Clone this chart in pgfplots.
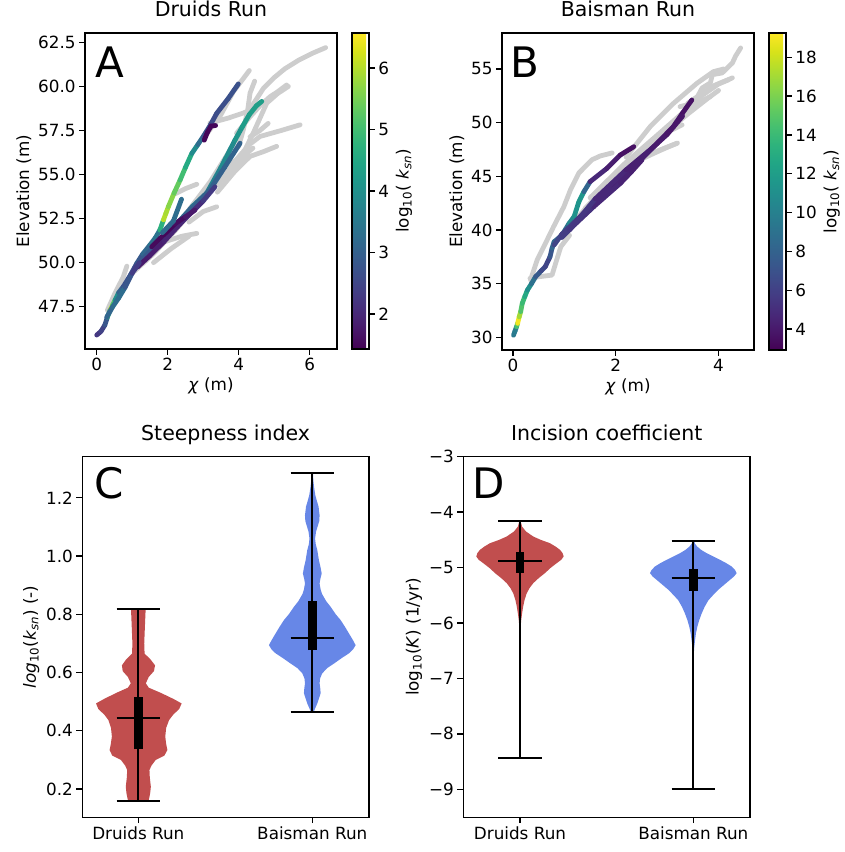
\documentclass[border=0pt]{standalone}
\usepackage{fontspec}
\setmainfont{DejaVu Sans}
\usepackage{pgfplots}
\usepackage{pgfplotstable}
\pgfplotsset{compat=1.18}

\definecolor{druid}{RGB}{193,78,78}
\definecolor{bais}{RGB}{103,135,231}
\definecolor{lgray}{RGB}{205,205,205}

\newcommand\tf{\fontsize{16.8}{20}\selectfont}
\newcommand\ksn{\textit{k}\textsubscript{\textit{sn}}}

\tikzset{letter/.style={anchor=base west, inner sep=0pt, font=\fontsize{42}{50}\selectfont}}

\pgfplotsset{
  panel/.style={
    scale only axis,
    axis line style={black, line width=1.3pt},
    tick align=outside, tick pos=left,
    major tick length=5.9pt,
    every tick/.append style={black, line width=1.3pt},
    tick label style={font=\tf},
    label style={font=\tf},
    /pgf/number format/assume math mode=true,
    title style={at={(0.5,1)}, anchor=base, yshift=10.3pt, font=\fontsize{20.5}{24}\selectfont},
  },
  cbar/.style={
    colorbar,
    colormap/viridis,
    colorbar shift/.style={xshift=15pt},
    colorbar style={
      scale only axis, width=17pt,
      at={(parent axis.north east)}, anchor=north west,
      axis line style={black, line width=1.3pt},
      xtick=\empty, ytick pos=right, yticklabel pos=right,
      tick align=outside, major tick length=5.9pt,
      every tick/.append style={black, line width=1.3pt},
      yticklabel style={font=\tf},
      ylabel style={font=\tf},
      /pgf/number format/assume math mode=true,
      ylabel={log\textsubscript{10}( \ksn)},
      #1
    },
  },
  gr/.style={lgray, line width=4.8pt, line cap=round, line join=round},
  cl/.style={mesh, point meta=explicit, line width=4.8pt, line cap=round, line join=round},
  wl/.style={black, line width=2pt},
  bx/.style={black, line width=8.5pt},
}

% violin outlines: y, signed half width (right side down, left side up)
\pgfplotstableread{
y w
0.816 0.042
0.76 0.038
0.70 0.034
0.665 0.036
0.645 0.07
0.625 0.096
0.605 0.09
0.585 0.06
0.563 0.043
0.548 0.06
0.53 0.13
0.51 0.2
0.494 0.249
0.475 0.235
0.455 0.2
0.437 0.177
0.41 0.16
0.38 0.155
0.355 0.16
0.334 0.167
0.315 0.15
0.30 0.10
0.28 0.075
0.265 0.064
0.24 0.066
0.208 0.072
0.185 0.068
0.162 0.06
0.162 -0.06
0.185 -0.068
0.208 -0.072
0.24 -0.066
0.265 -0.064
0.28 -0.075
0.30 -0.10
0.315 -0.15
0.334 -0.165
0.355 -0.158
0.38 -0.152
0.41 -0.157
0.437 -0.172
0.455 -0.195
0.475 -0.23
0.494 -0.243
0.51 -0.195
0.53 -0.127
0.548 -0.06
0.563 -0.043
0.585 -0.06
0.605 -0.09
0.625 -0.094
0.645 -0.07
0.665 -0.036
0.70 -0.034
0.76 -0.038
0.816 -0.042
}\vcd

\pgfplotstableread{
y w
1.286 0.004
1.26 0.006
1.238 0.01
1.21 0.017
1.192 0.025
1.17 0.036
1.14 0.042
1.12 0.04
1.1 0.03
1.085 0.022
1.06 0.016
1.04 0.02
1.02 0.029
0.986 0.038
0.96 0.048
0.94 0.054
0.92 0.046
0.906 0.042
0.885 0.048
0.87 0.056
0.845 0.08
0.826 0.105
0.80 0.135
0.78 0.163
0.755 0.19
0.734 0.211
0.71 0.235
0.694 0.249
0.68 0.235
0.666 0.211
0.65 0.17
0.631 0.125
0.615 0.085
0.597 0.057
0.58 0.045
0.563 0.042
0.545 0.046
0.529 0.048
0.51 0.038
0.494 0.029
0.475 0.015
0.464 0.008
0.464 -0.008
0.475 -0.015
0.494 -0.029
0.51 -0.038
0.529 -0.048
0.545 -0.046
0.563 -0.042
0.58 -0.045
0.597 -0.057
0.615 -0.085
0.631 -0.125
0.65 -0.17
0.666 -0.211
0.68 -0.235
0.694 -0.249
0.71 -0.235
0.734 -0.211
0.755 -0.19
0.78 -0.163
0.80 -0.135
0.826 -0.105
0.845 -0.08
0.87 -0.056
0.885 -0.048
0.906 -0.042
0.92 -0.046
0.94 -0.054
0.96 -0.048
0.986 -0.038
1.02 -0.029
1.04 -0.02
1.06 -0.016
1.085 -0.022
1.1 -0.03
1.12 -0.04
1.14 -0.042
1.17 -0.036
1.192 -0.025
1.21 -0.017
1.238 -0.01
1.26 -0.006
1.286 -0.004
}\vcb

\pgfplotstableread{
y w
-4.166 0.004
-4.26 0.012
-4.35 0.035
-4.44 0.077
-4.50 0.12
-4.56 0.173
-4.62 0.205
-4.68 0.231
-4.74 0.246
-4.80 0.252
-4.86 0.238
-4.92 0.212
-5.01 0.175
-5.10 0.144
-5.19 0.108
-5.28 0.077
-5.37 0.055
-5.47 0.038
-5.59 0.026
-5.71 0.018
-5.83 0.012
-5.95 0.007
-6.10 0.003
-6.3 0.001
-8.43 0.0
-6.3 -0.001
-6.10 -0.003
-5.95 -0.007
-5.83 -0.012
-5.71 -0.018
-5.59 -0.026
-5.47 -0.038
-5.37 -0.055
-5.28 -0.077
-5.19 -0.108
-5.10 -0.144
-5.01 -0.175
-4.92 -0.212
-4.86 -0.238
-4.80 -0.252
-4.74 -0.246
-4.68 -0.231
-4.62 -0.205
-4.56 -0.173
-4.50 -0.12
-4.44 -0.077
-4.35 -0.035
-4.26 -0.012
-4.166 -0.004
}\vdd

\pgfplotstableread{
y w
-4.515 0.004
-4.57 0.01
-4.62 0.022
-4.68 0.045
-4.74 0.077
-4.80 0.115
-4.86 0.154
-4.92 0.19
-4.98 0.221
-5.04 0.24
-5.10 0.25
-5.16 0.235
-5.22 0.212
-5.31 0.178
-5.40 0.144
-5.50 0.113
-5.59 0.087
-5.71 0.065
-5.83 0.048
-5.95 0.034
-6.07 0.023
-6.19 0.015
-6.31 0.01
-6.45 0.005
-6.6 0.002
-9.0 0.0
-6.6 -0.002
-6.45 -0.005
-6.31 -0.01
-6.19 -0.015
-6.07 -0.023
-5.95 -0.034
-5.83 -0.048
-5.71 -0.065
-5.59 -0.087
-5.50 -0.113
-5.40 -0.144
-5.31 -0.178
-5.22 -0.212
-5.16 -0.235
-5.10 -0.25
-5.04 -0.24
-4.98 -0.221
-4.92 -0.19
-4.86 -0.154
-4.80 -0.115
-4.74 -0.077
-4.68 -0.045
-4.62 -0.022
-4.57 -0.01
-4.515 -0.004
}\vdb

\begin{document}
\begin{tikzpicture}
\path[use as bounding box] (0,0) rectangle (845pt,-852pt);

% ---------- A ----------
\begin{axis}[panel, cbar={ytick={2,3,4,5,6}},
  at={(85pt,-349pt)}, anchor=south west, width=252pt, height=316pt,
  xmin=-0.33, xmax=6.77, ymin=45.1, ymax=63.03,
  point meta min=1.43, point meta max=6.57,
  xtick={0,2,4,6}, ytick={47.5,50,52.5,55,57.5,60,62.5},
  yticklabel style={/pgf/number format/.cd, fixed, fixed zerofill, precision=1},
  xlabel={\textit{χ} (m)}, ylabel={Elevation (m)}, title={Druids Run}]
\addplot[gr] coordinates {(2.6,53.0) (3.2,54.6) (3.7,56.2) (4.1,57.6) (4.41,59.0) (4.7,59.9) (5.0,60.5) (5.3,61.0) (5.7,61.5) (6.1,61.9) (6.45,62.2)};
\addplot[gr] coordinates {(3.1,57.3) (3.5,58.4) (3.85,59.7) (4.3,60.9)};
\addplot[gr] coordinates {(3.94,57.34) (4.32,58.28) (4.6,58.9) (4.88,59.41) (5.1,59.7) (5.35,60.08)};
\addplot[gr] coordinates {(4.2,56.5) (4.41,57.35) (4.6,58.2) (4.79,59.05) (5.1,59.6) (5.4,60.0)};
\addplot[gr] coordinates {(4.32,57.14) (4.6,57.5) (4.83,57.9)};
\addplot[gr] coordinates {(3.19,57.92) (3.7,58.2) (4.13,58.49) (4.5,58.8)};
\addplot[gr] coordinates {(3.6,55.0) (4.0,56.0) (4.3,56.7) (4.6,57.16) (5.2,57.5) (5.73,57.82)};
\addplot[gr] coordinates {(3.4,54.0) (3.9,55.2) (4.32,56.03) (4.7,56.3) (5.07,56.6)};
\addplot[gr] coordinates {(4.0,56.6) (4.13,57.54) (4.25,58.6) (4.32,59.62) (4.45,60.3)};
\addplot[gr] coordinates {(3.4,54.4) (3.8,55.3) (4.2,56.1)};
\addplot[gr] coordinates {(3.6,54.9) (4.0,55.8) (4.4,56.5)};
\addplot[gr] coordinates {(2.6,52.3) (3.0,52.9) (3.38,53.17)};
\addplot[gr] coordinates {(1.78,51.1) (2.4,51.5) (2.82,51.66)};
\addplot[gr] coordinates {(0.3,47.3) (0.5,48.2) (0.75,49.2) (0.85,49.8)};
\addplot[gr] coordinates {(2.2,53.9) (2.5,54.2) (2.82,54.45)};
\addplot[gr] coordinates {(1.0,49.4) (1.6,50.5) (2.2,51.8) (2.8,53.2) (3.3,54.6) (3.8,55.6) (4.2,56.3)};
\addplot[gr] coordinates {(1.6,50.0) (2.1,50.8) (2.6,51.5)};
% coloured profiles
\addplot[cl] coordinates {(0.00,45.89) [2.2] (0.12,46.1) [2.3] (0.23,46.46) [2.6] (0.30,46.9) [3.0] (0.38,47.31) [6.3] (0.45,47.6) [5.5] (0.52,47.88) [4.8] (0.62,48.3) [3.2] (0.75,48.64) [2.8] (0.95,49.3) [2.6] (1.13,49.96) [2.7] (1.30,50.5) [3.0] (1.50,51.0) [3.3] (1.65,51.4) [3.4] (1.78,51.85) [3.4] (1.88,52.42) [6.0] (1.95,52.8) [6.0] (2.02,53.18) [5.8] (2.18,53.95) [5.5] (2.35,54.69) [5.2] (2.50,55.4) [4.8] (2.68,56.2) [4.3] (2.85,56.7) [3.5] (3.00,57.15) [3.0] (3.20,57.8) [2.6] (3.38,58.47) [2.6] (3.70,59.3) [2.7] (3.99,60.14) [2.7]};
\addplot[cl] coordinates {(3.03,56.95) [1.5] (3.12,57.4) [1.5] (3.22,57.75) [1.5] (3.35,57.78) [1.5]};
\addplot[cl] coordinates {(2.3,52.3) [3.0] (2.7,53.2) [3.3] (3.10,53.95) [3.6] (3.5,55.4) [3.8] (3.90,56.97) [4.0] (4.1,57.7) [4.2] (4.3,58.4) [4.3] (4.5,58.9) [4.3] (4.65,59.15) [4.3]};
\addplot[cl] coordinates {(1.3,50.2) [2.8] (1.7,51.1) [2.9] (2.2,52.1) [3.0] (2.7,53.1) [3.0] (3.19,54.13) [3.0] (3.6,55.4) [3.0] (4.04,56.78) [3.1]};
\addplot[cl] coordinates {(1.15,49.75) [1.8] (1.5,50.4) [1.8] (1.9,51.2) [1.9] (2.4,52.3) [2.0] (2.8,53.1) [2.0] (3.0,53.5) [2.2] (3.33,54.3) [2.4]};
\addplot[cl] coordinates {(1.55,50.9) [1.6] (1.9,51.6) [1.5] (2.2,52.2) [1.5] (2.5,52.6) [1.7] (2.77,52.98) [1.8]};
\addplot[cl] coordinates {(1.85,51.7) [3.2] (2.16,52.36) [3.2] (2.39,53.6) [3.3]};
\addplot[cl] coordinates {(0.28,46.9) [3.0] (0.45,47.5) [3.2] (0.62,48.0) [3.3] (0.8,48.6) [3.2] (1.0,49.4) [2.4] (1.2,50.0) [2.3]};
\node[letter] at (rel axis cs:0.041,0.86) {A};
\end{axis}

% ---------- B ----------
\begin{axis}[panel, cbar={ytick={4,6,8,10,12,14,16,18}},
  at={(502pt,-350pt)}, anchor=south west, width=252pt, height=317pt,
  xmin=-0.214, xmax=4.69, ymin=28.82, ymax=58.35,
  point meta min=2.92, point meta max=19.25,
  xtick={0,2,4}, ytick={30,35,40,45,50,55},
  xlabel={\textit{χ} (m)}, ylabel={Elevation (m)}, title={Baisman Run}]
\addplot[gr] coordinates {(1.0,39.8) (1.6,43.0) (2.2,46.0) (2.7,48.3) (3.1,49.9) (3.5,51.6) (3.68,53.23) (3.84,53.7) (3.88,54.47) (4.07,54.63) (4.27,55.56) (4.33,56.19) (4.43,56.96)};
\addplot[gr] coordinates {(2.2,46.8) (2.67,49.63) (3.1,51.7) (3.58,53.67) (3.9,54.75) (4.1,55.0)};
\addplot[gr] coordinates {(3.4,51.8) (3.88,53.39) (4.27,54.17)};
\addplot[gr] coordinates {(3.25,51.49) (3.64,51.96) (3.84,52.42)};
\addplot[gr] coordinates {(2.8,48.6) (3.09,49.32) (3.29,49.79)};
\addplot[gr] coordinates {(2.52,46.7) (2.71,47.17) (3.2,48.1)};
\addplot[gr] coordinates {(0.34,35.34) (0.47,37.2) (0.60,38.45) (0.79,40.31) (0.99,42.17) (1.12,43.76) (1.28,45.3) (1.54,46.55) (1.7,46.9) (1.93,47.18)};
\addplot[gr] coordinates {(0.33,35.5) (0.51,35.65) (0.76,35.8) (0.83,36.9) (0.93,38.44) (1.1,39.5)};
\addplot[gr] coordinates {(1.4,42.0) (2.0,44.8) (2.6,47.6) (3.0,49.2) (3.4,50.8) (3.8,52.3) (4.0,53.0)};
\addplot[gr] coordinates {(1.5,43.0) (2.2,46.3) (2.8,48.8) (3.3,50.9) (3.7,52.6) (4.0,53.6) (4.2,54.0)};
\addplot[gr] coordinates {(2.5,46.6) (2.74,47.14) (3.0,47.7) (3.19,48.07)};
\addplot[cl] coordinates {(0.01,30.2) [9.5] (0.04,30.6) [9.5] (0.07,31.0) [10] (0.09,31.3) [19] (0.12,31.9) [19] (0.15,32.4) [15] (0.18,33.17) [14.5] (0.23,33.8) [13.5] (0.28,34.4) [12] (0.36,35.0) [10] (0.44,35.65) [8] (0.55,36.2) [7] (0.63,36.6) [6] (0.72,37.5) [6.5] (0.76,38.3) [8] (0.80,38.9) [8.5] (0.95,39.5) [8] (1.09,40.6) [10] (1.19,41.25) [11] (1.28,42.6) [11.5] (1.38,43.57) [11.5] (1.50,44.5) [5] (1.83,45.75) [4.5] (2.09,46.99) [4.0] (2.35,47.76) [3.2]};
\addplot[cl] coordinates {(0.80,38.6) [6.5] (0.95,39.6) [6] (1.24,40.93) [5.5] (1.57,42.48) [5] (1.96,44.04) [4.5] (2.35,45.9) [4.5] (2.74,47.76) [4.0] (3.12,49.63) [4.0] (3.3,50.9) [3.8] (3.48,52.11) [3.5]};
\addplot[cl] coordinates {(0.95,39.3) [6] (1.2,40.5) [5.5] (1.57,42.17) [5] (2.09,44.35) [4.5] (2.3,45.4) [4.5] (2.51,46.52) [4.2]};
\addplot[cl] coordinates {(1.1,40.0) [6] (1.6,42.9) [5] (2.2,45.6) [4.5] (2.7,47.6) [4.2] (3.0,48.9) [4.0] (3.3,50.6) [3.8]};
\node[letter] at (rel axis cs:0.034,0.86) {B};
\end{axis}

% ---------- C ----------
\begin{axis}[panel,
  at={(82.3pt,-817.3pt)}, anchor=south west, width=286.7pt, height=360.6pt,
  xmin=0.678, xmax=2.326, ymin=0.103, ymax=1.341,
  xtick={1,2}, xticklabels={Druids Run, Baisman Run},
  ytick={0.2,0.4,0.6,0.8,1.0,1.2},
  yticklabel style={/pgf/number format/.cd, fixed, fixed zerofill, precision=1},
  ylabel={\textit{log}\textsubscript{10}(\ksn) (-)}, title={Steepness index}]
\addplot[fill=druid, draw=none] table[x expr=1+\thisrow{w}, y=y] {\vcd} -- cycle;
\addplot[fill=bais, draw=none] table[x expr=2+\thisrow{w}, y=y] {\vcb} -- cycle;
\addplot[wl] coordinates {(1,0.16) (1,0.817)};
\addplot[wl] coordinates {(0.875,0.817) (1.125,0.817)};
\addplot[wl] coordinates {(0.875,0.16) (1.125,0.16)};
\addplot[bx] coordinates {(1,0.336) (1,0.515)};
\addplot[wl] coordinates {(0.875,0.445) (1.125,0.445)};
\addplot[wl] coordinates {(2,0.464) (2,1.286)};
\addplot[wl] coordinates {(1.875,1.286) (2.125,1.286)};
\addplot[wl] coordinates {(1.875,0.464) (2.125,0.464)};
\addplot[bx] coordinates {(2,0.677) (2,0.845)};
\addplot[wl] coordinates {(1.875,0.718) (2.125,0.718)};
\node[letter] at (rel axis cs:0.042,0.883) {C};
\end{axis}

% ---------- D ----------
\begin{axis}[panel,
  at={(463.3pt,-817.3pt)}, anchor=south west, width=286.7pt, height=360.6pt,
  xmin=0.673, xmax=2.327, ymin=-9.505, ymax=-3,
  xtick={1,2}, xticklabels={Druids Run, Baisman Run},
  ytick={-9,-8,-7,-6,-5,-4,-3}, yticklabels={−9,−8,−7,−6,−5,−4,−3},
  ylabel={log\textsubscript{10}(\textit{K}) (1/yr)}, title={Incision coefficient}]
\addplot[fill=druid, draw=none] table[x expr=1+\thisrow{w}, y=y] {\vdd} -- cycle;
\addplot[fill=bais, draw=none] table[x expr=2+\thisrow{w}, y=y] {\vdb} -- cycle;
\addplot[wl] coordinates {(1,-8.43) (1,-4.166)};
\addplot[wl] coordinates {(0.875,-4.166) (1.125,-4.166)};
\addplot[wl] coordinates {(0.875,-8.43) (1.125,-8.43)};
\addplot[bx] coordinates {(1,-5.09) (1,-4.71)};
\addplot[wl] coordinates {(0.875,-4.876) (1.125,-4.876)};
\addplot[wl] coordinates {(2,-9.0) (2,-4.515)};
\addplot[wl] coordinates {(1.875,-4.515) (2.125,-4.515)};
\addplot[wl] coordinates {(1.875,-9.0) (2.125,-9.0)};
\addplot[bx] coordinates {(2,-5.417) (2,-5.026)};
\addplot[wl] coordinates {(1.875,-5.194) (2.125,-5.194)};
\node[letter] at (rel axis cs:0.032,0.883) {D};
\end{axis}
\end{tikzpicture}
\end{document}
